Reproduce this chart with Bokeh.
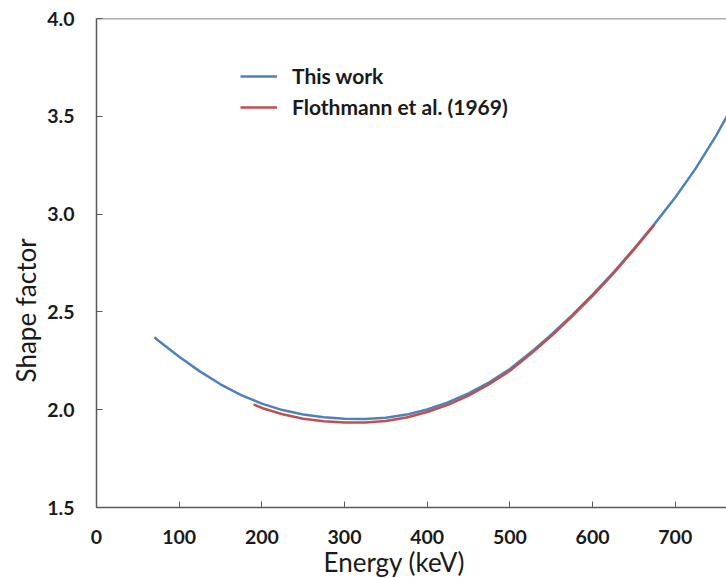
from bokeh.plotting import figure
from bokeh.models import Legend, LegendItem, Span, FixedTicker, Title, CustomJSTickFormatter
from bokeh.embed import file_html
from bokeh.resources import INLINE

# Data
this_work_x = [70, 75, 100, 125, 150, 175, 200, 225, 250, 275, 300, 325, 350, 375, 400, 425,
               450, 475, 500, 525, 550, 575, 600, 625, 650, 675, 700, 725, 750, 765]
this_work_y = [2.37, 2.353, 2.271, 2.196, 2.130, 2.075, 2.031, 1.998, 1.975, 1.961, 1.954,
               1.953, 1.959, 1.975, 2.001, 2.037, 2.083, 2.140, 2.208, 2.292, 2.383, 2.482,
               2.588, 2.701, 2.822, 2.950, 3.085, 3.235, 3.405, 3.52]
floth_x = [190, 200, 225, 250, 275, 300, 325, 350, 375, 400, 425, 450, 475, 500, 525, 550,
           575, 600, 625, 650, 675]
floth_y = [2.027, 2.009, 1.977, 1.954, 1.941, 1.934, 1.934, 1.942, 1.960, 1.988, 2.025, 2.072,
           2.130, 2.199, 2.284, 2.376, 2.476, 2.582, 2.696, 2.818, 2.946]
x_ticks = [0, 100, 200, 300, 400, 500, 600, 700]
y_ticks = [1.5, 2.0, 2.5, 3.0, 3.5, 4.0]
series_names = ["This work", "Flothmann et al. (1969)"]

BLUE = "#4F81BD"
RED = "#C0504D"
AXIS = "#595959"
TXT = "#1a1a1a"

p = figure(width=726, height=578, x_range=(0, 762), y_range=(1.5, 4.0),
           output_backend="svg", toolbar_location=None,
           min_border_left=96, min_border_right=0, min_border_top=18,
           min_border_bottom=71)
p.outline_line_color = None
p.xgrid.visible = False
p.ygrid.visible = False

r1 = p.line(this_work_x, this_work_y, line_color=BLUE, line_width=2.5)
r2 = p.line(floth_x, floth_y, line_color=RED, line_width=2.5)

p.add_layout(Span(location=4.0, dimension="width", line_color=AXIS, line_width=1.5))

for ax in (p.xaxis[0], p.yaxis[0]):
    ax.axis_line_color = AXIS
    ax.axis_line_width = 1.5
    ax.major_tick_line_color = AXIS
    ax.major_tick_line_width = 1
    ax.major_tick_in = 6
    ax.major_tick_out = 0
    ax.minor_tick_line_color = None
    ax.major_label_text_font = "Lato"
    ax.major_label_text_font_style = "bold"
    ax.major_label_text_font_size = "19.5px"
    ax.major_label_text_color = TXT

p.xaxis.ticker = FixedTicker(ticks=x_ticks)
p.yaxis.ticker = FixedTicker(ticks=y_ticks)
p.yaxis.formatter = CustomJSTickFormatter(code="return tick.toFixed(1);")
p.xaxis.major_label_standoff = 22
p.yaxis.major_label_standoff = 22

x_title = Title(text="Energy (keV)", align="left", offset=227, standoff=-6,
                text_font="Lato", text_font_size="26px", text_font_style="normal",
                text_color=TXT)
y_title = Title(text="Shape factor", align="left", offset=125, standoff=6,
                text_font="Lato", text_font_size="26px", text_font_style="normal",
                text_color=TXT)
p.add_layout(x_title, "below")
p.add_layout(y_title, "left")

legend = Legend(items=[LegendItem(label=series_names[0], renderers=[r1]),
                       LegendItem(label=series_names[1], renderers=[r2])],
                location=(144, 388))
legend.border_line_color = None
legend.background_fill_alpha = 0
legend.padding = 0
legend.margin = 0
legend.spacing = 6
legend.glyph_width = 37
legend.glyph_height = 20
legend.label_height = 20
legend.label_standoff = 15
legend.label_text_font = "Lato"
legend.label_text_font_style = "bold"
legend.label_text_font_size = "21px"
legend.label_text_color = TXT
p.add_layout(legend)

open("out.html", "w").write(file_html(p, INLINE))
